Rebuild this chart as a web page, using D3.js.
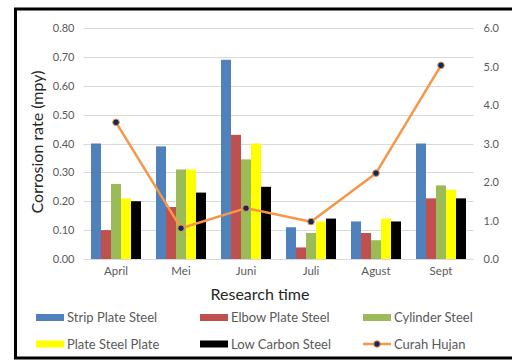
<!DOCTYPE html>
<html>
<head>
<meta charset="utf-8">
<script src="https://cdn.jsdelivr.net/npm/d3@7"></script>
<style>
  html, body { margin: 0; padding: 0; background: #fff; }
  svg { display: block; font-family: Lato, "Open Sans", sans-serif; }
</style>
</head>
<body>
<svg id="chart" width="512" height="361"></svg>
<script>
// Monthly corrosion rates (mpy) per steel type, plus rainfall on a secondary axis
const months = ["April", "Mei", "Juni", "Juli", "Agust", "Sept"];
const seriesNames = ["Strip Plate Steel", "Elbow Plate Steel", "Cylinder Steel", "Plate Steel Plate", "Low Carbon Steel"];
const stripPlate = [0.40, 0.39, 0.69, 0.11, 0.13, 0.40];
const elbowPlate = [0.10, 0.18, 0.43, 0.04, 0.09, 0.21];
const cylinder   = [0.26, 0.31, 0.345, 0.09, 0.065, 0.255];
const platePlate = [0.21, 0.31, 0.40, 0.13, 0.14, 0.24];
const lowCarbon  = [0.20, 0.23, 0.25, 0.14, 0.13, 0.21];
const curahHujan = [3.55, 0.80, 1.32, 0.97, 2.23, 5.03];
const leftTicks  = [0, 0.1, 0.2, 0.3, 0.4, 0.5, 0.6, 0.7, 0.8];
const rightTicks = [0, 1, 2, 3, 4, 5, 6];

const colors = ["#4F81BD", "#C0504D", "#9BBB59", "#FFFF00", "#000000"];
const lineColor = "#F79646";
const markerColor = "#0F2A5C";

const barSeries = [stripPlate, elbowPlate, cylinder, platePlate, lowCarbon];

const svg = d3.select("#chart");
const plot = { left: 83.5, right: 473.5, top: 28, bottom: 259 };

// outer frame
svg.append("rect")
  .attr("x", 15.5).attr("y", 9).attr("width", 520).attr("height", 349)
  .attr("fill", "none").attr("stroke", "#000").attr("stroke-width", 3);

const x = d3.scaleBand().domain(months).range([plot.left, plot.right]).paddingInner(0).paddingOuter(0);
const xInner = d3.scaleBand().domain(d3.range(barSeries.length))
  .range([0, x.bandwidth()]).paddingOuter(0.75).paddingInner(0);
const yL = d3.scaleLinear().domain([0, 0.8]).range([plot.bottom, plot.top]);
const yR = d3.scaleLinear().domain([0, 6]).range([plot.bottom, plot.top]);

// gridlines
svg.append("g").selectAll("line").data(leftTicks).join("line")
  .attr("x1", plot.left).attr("x2", plot.right)
  .attr("y1", d => Math.round(yL(d)) + 0.5).attr("y2", d => Math.round(yL(d)) + 0.5)
  .attr("stroke", "#D9D9D9").attr("stroke-width", 1);

// left axis labels
const leftAxis = d3.axisLeft(yL).tickValues(leftTicks).tickFormat(d3.format(".2f")).tickSize(0).tickPadding(0);
svg.append("g").attr("transform", `translate(${plot.left - 9},0)`).call(leftAxis)
  .call(g => g.select(".domain").remove())
  .call(g => g.selectAll("text").attr("fill", "#595959").style("font-size", "11px").style("font-family", "Lato, sans-serif"));

// right axis labels
const rightAxis = d3.axisRight(yR).tickValues(rightTicks).tickFormat(d3.format(".1f")).tickSize(0).tickPadding(0);
svg.append("g").attr("transform", `translate(${plot.right + 10},0)`).call(rightAxis)
  .call(g => g.select(".domain").remove())
  .call(g => g.selectAll("text").attr("fill", "#595959").style("font-size", "11px").style("font-family", "Lato, sans-serif"));

// bars
barSeries.forEach((vals, si) => {
  svg.append("g").selectAll("rect").data(vals).join("rect")
    .attr("x", (d, i) => x(months[i]) + xInner(si))
    .attr("width", xInner.bandwidth())
    .attr("y", d => yL(d))
    .attr("height", d => plot.bottom - yL(d))
    .attr("fill", colors[si]);
});

// category labels
const bottomAxis = d3.axisBottom(x).tickSize(0).tickPadding(0);
svg.append("g").attr("transform", `translate(0,${plot.bottom + 8})`).call(bottomAxis)
  .call(g => g.select(".domain").remove())
  .call(g => g.selectAll("text").attr("fill", "#595959").style("font-size", "11.5px").style("font-family", "Lato, sans-serif"));

// rainfall line
const line = d3.line().x((d, i) => x(months[i]) + x.bandwidth() / 2).y(d => yR(d));
svg.append("path").datum(curahHujan).attr("d", line)
  .attr("fill", "none").attr("stroke", lineColor).attr("stroke-width", 2.5).attr("stroke-linejoin", "round");
svg.append("g").selectAll("circle").data(curahHujan).join("circle")
  .attr("cx", (d, i) => x(months[i]) + x.bandwidth() / 2).attr("cy", d => yR(d))
  .attr("r", 3.3).attr("fill", markerColor).attr("stroke", lineColor).attr("stroke-width", 1);

// axis titles
svg.append("text").attr("x", 260).attr("y", 300).attr("text-anchor", "middle")
  .attr("fill", "#262626").style("font-size", "16px").text("Research time");
svg.append("text").attr("transform", "translate(43,142) rotate(-90)").attr("text-anchor", "middle")
  .attr("fill", "#262626").style("font-size", "16px").text("Corrosion rate (mpy)");

// legend
const legendItems = [
  { name: seriesNames[0], color: colors[0], col: 0, row: 0 },
  { name: seriesNames[1], color: colors[1], col: 1, row: 0 },
  { name: seriesNames[2], color: colors[2], col: 2, row: 0 },
  { name: seriesNames[3], color: colors[3], col: 0, row: 1 },
  { name: seriesNames[4], color: colors[4], col: 1, row: 1 },
  { name: "Curah Hujan", color: lineColor, col: 2, row: 1, line: true }
];
const colX = [36, 200, 363];
const rowY = [317.5, 344];
const lg = svg.append("g").selectAll("g").data(legendItems).join("g")
  .attr("transform", d => `translate(${colX[d.col]},${rowY[d.row]})`);
lg.filter(d => !d.line).append("rect")
  .attr("x", 0).attr("y", -3.5).attr("width", 28).attr("height", 7).attr("fill", d => d.color);
lg.filter(d => d.line).append("line")
  .attr("x1", 0).attr("x2", 28).attr("y1", 0).attr("y2", 0)
  .attr("stroke", lineColor).attr("stroke-width", 2.5);
lg.filter(d => d.line).append("circle")
  .attr("cx", 14).attr("cy", 0).attr("r", 3.3).attr("fill", markerColor).attr("stroke", lineColor).attr("stroke-width", 1);
lg.append("text").attr("x", 31).attr("y", 0).attr("dy", "0.35em")
  .attr("fill", "#595959").style("font-size", "13px").text(d => d.name);
</script>
</body>
</html>
